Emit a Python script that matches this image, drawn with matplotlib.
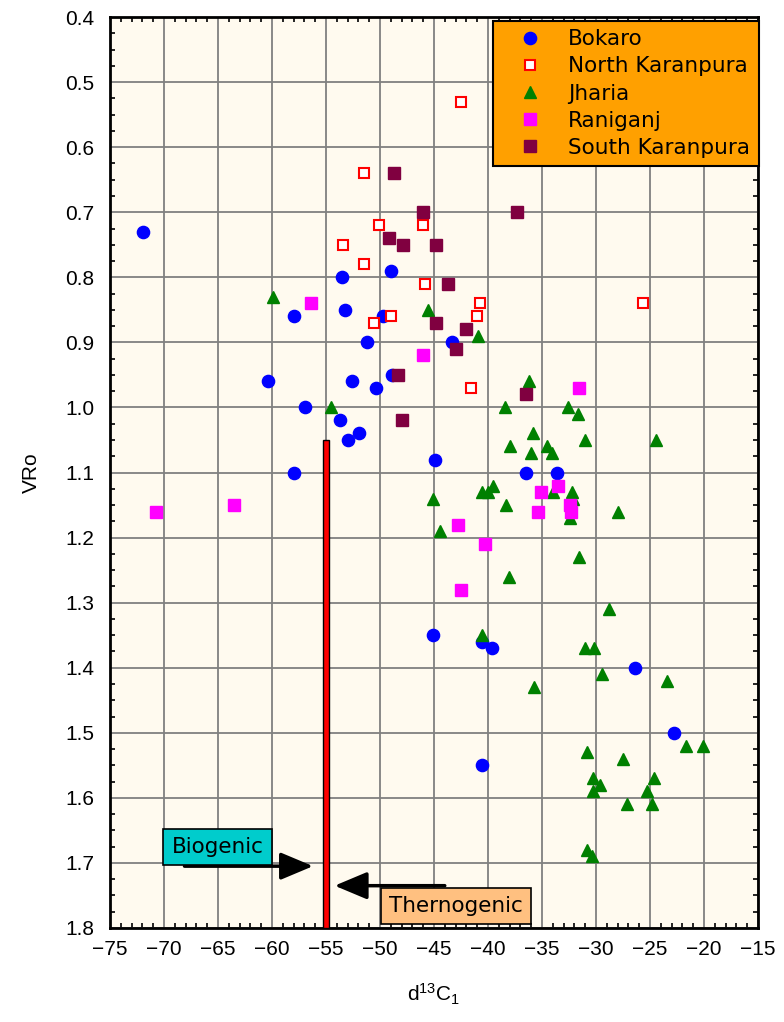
import matplotlib
matplotlib.use("Agg")
import matplotlib.pyplot as plt
from matplotlib.ticker import MultipleLocator, FormatStrFormatter

plt.rcParams['mathtext.default'] = 'regular'

# d13C1 (x) and vitrinite reflectance VRo (y) per coalfield
bokaro_x = [-71.9, -58.0, -53.5, -53.2, -49.0, -49.7, -51.2, -43.3, -60.4, -52.6,
            -50.4, -48.9, -56.9, -53.7, -51.9, -53.0, -58.0, -44.9, -36.5, -33.6,
            -45.1, -40.6, -39.6, -26.4, -22.8, -40.6]
bokaro_y = [0.73, 0.86, 0.80, 0.85, 0.79, 0.86, 0.90, 0.90, 0.96, 0.96,
            0.97, 0.95, 1.00, 1.02, 1.04, 1.05, 1.10, 1.08, 1.10, 1.10,
            1.35, 1.36, 1.37, 1.40, 1.50, 1.55]

nkaranpura_x = [-42.5, -51.5, -50.1, -46.0, -53.4, -51.5, -45.8, -49.0, -50.6,
                -40.7, -41.0, -25.6, -41.6]
nkaranpura_y = [0.53, 0.64, 0.72, 0.72, 0.75, 0.78, 0.81, 0.86, 0.87,
                0.84, 0.86, 0.84, 0.97]

jharia_x = [-59.9, -45.6, -40.9, -54.5, -36.2, -38.4, -32.6, -31.7, -35.8, -38.0,
            -34.5, -36.0, -34.1, -31.0, -24.4, -45.1, -40.6, -40.0, -39.5, -38.3,
            -34.0, -32.2, -32.1, -32.4, -28.0, -44.4, -31.6, -38.1, -28.8, -40.6,
            -31.0, -30.2, -29.4, -23.4, -35.7, -30.8, -21.7, -20.1, -27.5, -30.3,
            -29.6, -30.3, -24.6, -25.3, -27.1, -24.8, -30.8, -30.4]
jharia_y = [0.83, 0.85, 0.89, 1.00, 0.96, 1.00, 1.00, 1.01, 1.04, 1.06,
            1.06, 1.07, 1.07, 1.05, 1.05, 1.14, 1.13, 1.13, 1.12, 1.15,
            1.13, 1.13, 1.14, 1.17, 1.16, 1.19, 1.23, 1.26, 1.31, 1.35,
            1.37, 1.37, 1.41, 1.42, 1.43, 1.53, 1.52, 1.52, 1.54, 1.57,
            1.58, 1.59, 1.57, 1.59, 1.61, 1.61, 1.68, 1.69]

raniganj_x = [-56.4, -46.0, -70.7, -63.5, -31.6, -33.5, -35.1, -32.4, -32.3,
              -35.4, -42.8, -40.3, -42.5]
raniganj_y = [0.84, 0.92, 1.16, 1.15, 0.97, 1.12, 1.13, 1.15, 1.16,
              1.16, 1.18, 1.21, 1.28]

skaranpura_x = [-48.7, -46.0, -37.3, -49.2, -47.9, -44.8, -43.7, -44.8, -42.0,
                -43.0, -48.3, -48.0, -36.5]
skaranpura_y = [0.64, 0.70, 0.70, 0.74, 0.75, 0.75, 0.81, 0.87, 0.88,
                0.91, 0.95, 1.02, 0.98]

# biogenic / thermogenic boundary
boundary_x = -55.0
boundary_top = 1.05
boundary_bottom = 1.8

x_ticks = list(range(-75, -14, 5))
y_ticks = [0.4 + 0.1 * i for i in range(15)]

fig = plt.figure(figsize=(7.84, 10.22), dpi=100)
ax = fig.add_axes([0.1403, 0.092, 0.8265, 0.8913])
ax.set_facecolor('#FFFAEF')

ax.set_xlim(-75, -15)
ax.set_ylim(1.8, 0.4)
ax.set_xticks(x_ticks)
ax.set_yticks(y_ticks)
ax.yaxis.set_major_formatter(FormatStrFormatter('%.1f'))
ax.xaxis.set_minor_locator(MultipleLocator(1))
ax.yaxis.set_minor_locator(MultipleLocator(0.025))
ax.grid(True, which='major', color='#808080', linewidth=1.3, zorder=0)
ax.set_axisbelow(True)
ax.tick_params(which='both', direction='in', top=True, right=True, color='black')
ax.tick_params(which='major', length=0, labelsize=15, pad=9)
ax.tick_params(axis='y', which='major', pad=11)
ax.tick_params(which='minor', length=3.5, width=1.2)
for lab in ax.get_xticklabels() + ax.get_yticklabels():
    lab.set_family(['Liberation Sans', 'DejaVu Sans'])
for sp in ax.spines.values():
    sp.set_linewidth(2)
    sp.set_color('black')

ax.plot(bokaro_x, bokaro_y, 'o', ms=8.8, color='#0000FF', mec='#0000FF',
        label='Bokaro', zorder=3)
ax.plot(nkaranpura_x, nkaranpura_y, 's', ms=7.6, mfc='white', mec='#FF0000',
        mew=1.5, label='North Karanpura', zorder=3)
ax.plot(jharia_x, jharia_y, '^', ms=8.6, color='#008000', mec='#008000',
        label='Jharia', zorder=3)
ax.plot(raniganj_x, raniganj_y, 's', ms=8.3, color='#FF00FF', mec='#FF00FF',
        label='Raniganj', zorder=3)
ax.plot(skaranpura_x, skaranpura_y, 's', ms=8.3, color='#800040', mec='#800040',
        label='South Karanpura', zorder=3)

ax.bar(boundary_x, boundary_bottom - boundary_top, bottom=boundary_top, width=0.55,
       color='#FF0000', edgecolor='black', linewidth=1.0, zorder=4)

arrow_kw = dict(arrowstyle='-|>,head_length=1.0,head_width=0.42', color='black',
                lw=2.5, mutation_scale=20, shrinkA=0, shrinkB=0)
ax.annotate('', xy=(-56.2, 1.705), xytext=(-68.1, 1.705), arrowprops=arrow_kw, zorder=5)
ax.annotate('', xy=(-54.2, 1.735), xytext=(-44.0, 1.735), arrowprops=arrow_kw, zorder=5)

ax.text(-65.05, 1.676, 'Biogenic', fontsize=15.5, ha='center', va='center',
        family='DejaVu Sans', zorder=6,
        bbox=dict(boxstyle='square,pad=0.38', fc='#00CCCC', ec='black', lw=1.2))
ax.text(-42.96, 1.766, 'Thernogenic', fontsize=15.5, ha='center', va='center',
        family='DejaVu Sans', zorder=6,
        bbox=dict(boxstyle='square,pad=0.38', fc='#FFC080', ec='black', lw=1.2))

leg = ax.legend(loc='upper right', bbox_to_anchor=(1.0015, 0.996), borderaxespad=0,
                prop={'family': 'DejaVu Sans', 'size': 15.5},
                frameon=True, fancybox=False, framealpha=1, facecolor='#FFA000',
                edgecolor='black', borderpad=0.4, handlelength=2.6,
                handletextpad=0.5, labelspacing=0.33, numpoints=1)
leg.get_frame().set_linewidth(1.5)
leg.set_zorder(7)

ax.set_xlabel('d$^{13}$C$_1$', fontsize=15, family='Liberation Sans', labelpad=16)
ax.set_ylabel('VRo', fontsize=15, family='Liberation Sans', labelpad=18)

fig.savefig('out.png', dpi=100)
